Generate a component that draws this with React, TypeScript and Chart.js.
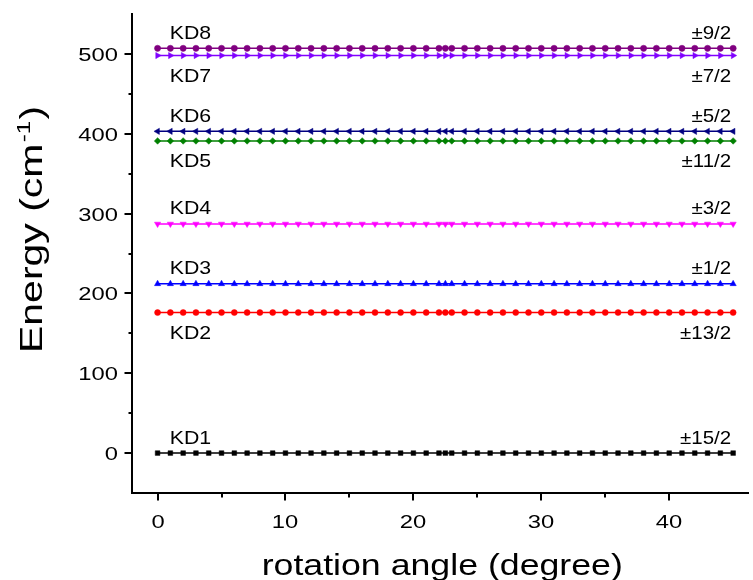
import { useEffect, useRef } from "react";
import { Chart, registerables } from "chart.js";

Chart.register(...registerables);

// rotation angle (degree)
const angles = [
  0, 1, 2, 3, 4, 5, 6, 7, 8, 9, 10, 11, 12, 13, 14, 15, 16, 17, 18, 19, 20, 21, 22,
  22.5,
  23, 24, 25, 26, 27, 28, 29, 30, 31, 32, 33, 34, 35, 36, 37, 38, 39, 40, 41, 42, 43, 44, 45,
];

// energies (cm-1) of the eight Kramers doublets at each angle
const kd1Energy = [
  0, 0, 0, 0, 0, 0, 0, 0, 0, 0,
  0, 0, 0, 0, 0, 0, 0, 0, 0, 0,
  0, 0, 0, 0, 0, 0, 0, 0, 0, 0,
  0, 0, 0, 0, 0, 0, 0, 0, 0, 0,
  0, 0, 0, 0, 0, 0, 0,
];
const kd2Energy = [
  176, 176, 176, 176, 176, 176, 176, 176, 176, 176,
  176, 176, 176, 176, 176, 176, 176, 176, 176, 176,
  176, 176, 176, 176, 176, 176, 176, 176, 176, 176,
  176, 176, 176, 176, 176, 176, 176, 176, 176, 176,
  176, 176, 176, 176, 176, 176, 176,
];
const kd3Energy = [
  212, 212, 212, 212, 212, 212, 212, 212, 212, 212,
  212, 212, 212, 212, 212, 212, 212, 212, 212, 212,
  212, 212, 212, 212, 212, 212, 212, 212, 212, 212,
  212, 212, 212, 212, 212, 212, 212, 212, 212, 212,
  212, 212, 212, 212, 212, 212, 212,
];
const kd4Energy = [
  287, 287, 287, 287, 287, 287, 287, 287, 287, 287,
  287, 287, 287, 287, 287, 287, 287, 287, 287, 287,
  287, 287, 287, 287, 287, 287, 287, 287, 287, 287,
  287, 287, 287, 287, 287, 287, 287, 287, 287, 287,
  287, 287, 287, 287, 287, 287, 287,
];
const kd5Energy = [
  391, 391, 391, 391, 391, 391, 391, 391, 391, 391,
  391, 391, 391, 391, 391, 391, 391, 391, 391, 391,
  391, 391, 391, 391, 391, 391, 391, 391, 391, 391,
  391, 391, 391, 391, 391, 391, 391, 391, 391, 391,
  391, 391, 391, 391, 391, 391, 391,
];
const kd6Energy = [
  403, 403, 403, 403, 403, 403, 403, 403, 403, 403,
  403, 403, 403, 403, 403, 403, 403, 403, 403, 403,
  403, 403, 403, 403, 403, 403, 403, 403, 403, 403,
  403, 403, 403, 403, 403, 403, 403, 403, 403, 403,
  403, 403, 403, 403, 403, 403, 403,
];
const kd7Energy = [
  498, 498, 498, 498, 498, 498, 498, 498, 498, 498,
  498, 498, 498, 498, 498, 498, 498, 498, 498, 498,
  498, 498, 498, 498, 498, 498, 498, 498, 498, 498,
  498, 498, 498, 498, 498, 498, 498, 498, 498, 498,
  498, 498, 498, 498, 498, 498, 498,
];
const kd8Energy = [
  507, 507, 507, 507, 507, 507, 507, 507, 507, 507,
  507, 507, 507, 507, 507, 507, 507, 507, 507, 507,
  507, 507, 507, 507, 507, 507, 507, 507, 507, 507,
  507, 507, 507, 507, 507, 507, 507, 507, 507, 507,
  507, 507, 507, 507, 507, 507, 507,
];

const seriesEnergies = [kd1Energy, kd2Energy, kd3Energy, kd4Energy, kd5Energy, kd6Energy, kd7Energy, kd8Energy];
const seriesNames = ["KD1", "KD2", "KD3", "KD4", "KD5", "KD6", "KD7", "KD8"];
const mjLabels = ["±15/2", "±13/2", "±1/2", "±3/2", "±11/2", "±5/2", "±7/2", "±9/2"];

// styles
const seriesColors = ["#000000", "#ff0000", "#0000ff", "#ff00ff", "#008000", "#000080", "#8000ff", "#800080"];
const seriesPointStyles = ["rect", "circle", "triangle", "triangle", "rectRot", "triangle", "triangle", "circle"];
const seriesPointRotation = [0, 0, 0, 180, 0, -90, 90, 0];
const seriesPointRadius = [3.3, 3, 3.6, 3.6, 3.3, 3.6, 3.6, 3.1];
const labelAbove = [true, false, true, true, false, true, false, true];

const FONT = '"Liberation Sans", Arial, Helvetica, sans-serif';

function drawStretched(ctx: CanvasRenderingContext2D, text: string, x: number, y: number, size: number, sx: number, align: string) {
  ctx.save();
  ctx.font = `${size}px ${FONT}`;
  ctx.textAlign = "left";
  ctx.textBaseline = "alphabetic";
  const w = ctx.measureText(text).width * sx;
  let left = x;
  if (align === "center") left = x - w / 2;
  else if (align === "right") left = x - w;
  ctx.translate(left, y);
  ctx.scale(sx, 1);
  ctx.fillStyle = "#000";
  ctx.fillText(text, 0, 0);
  ctx.restore();
}

const decorPlugin = {
  id: "decor",
  afterDatasetsDraw(chart: any) {
    const ctx: CanvasRenderingContext2D = chart.ctx;
    const xs = chart.scales.x;
    const ys = chart.scales.y;
    const area = chart.chartArea;
    ctx.save();
    ctx.strokeStyle = "#000";
    ctx.lineWidth = 2;
    // x ticks
    xs.ticks.forEach((t: any) => {
      const v = t.value;
      if (v < 0 || v > 45 || Math.abs(v % 5) > 1e-9) return;
      const major = Math.abs(v % 10) < 1e-9;
      const px = Math.round(xs.getPixelForValue(v));
      ctx.beginPath();
      ctx.moveTo(px, area.bottom);
      ctx.lineTo(px, area.bottom + (major ? 7.5 : 4.5));
      ctx.stroke();
      if (major) drawStretched(ctx, String(v), px, area.bottom + 35, 19, 1.25, "center");
    });
    // y ticks
    ys.ticks.forEach((t: any) => {
      const v = t.value;
      if (v < 0 || v > 500 || Math.abs(v % 50) > 1e-9) return;
      const major = Math.abs(v % 100) < 1e-9;
      const py = Math.round(ys.getPixelForValue(v));
      ctx.beginPath();
      ctx.moveTo(area.left, py);
      ctx.lineTo(area.left - (major ? 7.5 : 3.5), py);
      ctx.stroke();
      if (major) drawStretched(ctx, String(v), 118, py + 6.5, 19, 1.25, "right");
    });
    ctx.restore();

    // level labels
    seriesEnergies.forEach((arr, i) => {
      const py = ys.getPixelForValue(arr[0]);
      const base = labelAbove[i] ? py - 9.5 : py + 26;
      drawStretched(ctx, seriesNames[i], xs.getPixelForValue(0.95), base, 19, 1.12, "left");
      drawStretched(ctx, mjLabels[i], xs.getPixelForValue(44.85), base, 19, 1.08, "right");
    });

    // x title
    drawStretched(ctx, "rotation angle (degree)", (area.left + area.right) / 2 + 2, 575, 30, 1.19, "center");

    // y title with superscript
    ctx.save();
    ctx.translate(42, 353);
    ctx.rotate(-Math.PI / 2);
    ctx.scale(1.28, 1);
    ctx.fillStyle = "#000";
    ctx.textAlign = "left";
    ctx.textBaseline = "alphabetic";
    ctx.font = `32px ${FONT}`;
    const p1 = "Energy (cm";
    ctx.fillText(p1, 0, 0);
    const w1 = ctx.measureText(p1).width;
    ctx.font = `19px ${FONT}`;
    ctx.fillText("-1", w1 + 1, -12);
    const w2 = ctx.measureText("-1").width;
    ctx.font = `32px ${FONT}`;
    ctx.fillText(")", w1 + w2 + 2, 0);
    ctx.restore();
  },
};

export default function App() {
  const canvasRef = useRef<HTMLCanvasElement | null>(null);

  useEffect(() => {
    const canvas = canvasRef.current;
    if (!canvas) return;
    const datasets = seriesEnergies.map((arr, i) => ({
      label: seriesNames[i],
      data: angles.map((a, j) => ({ x: a, y: arr[j] })),
      borderColor: seriesColors[i],
      backgroundColor: seriesColors[i],
      borderWidth: 1.5,
      pointStyle: seriesPointStyles[i] as any,
      pointRotation: seriesPointRotation[i],
      pointRadius: seriesPointRadius[i],
      pointBorderWidth: 0.5,
      pointBackgroundColor: seriesColors[i],
      pointBorderColor: seriesColors[i],
      showLine: true,
      fill: false,
      tension: 0,
      clip: false as any,
    }));
    const chart = new Chart(canvas, {
      type: "line",
      data: { datasets },
      options: {
        animation: false,
        responsive: false,
        maintainAspectRatio: false,
        devicePixelRatio: 1,
        layout: { padding: { top: 14, right: 1, left: 0, bottom: 0 } },
        plugins: { legend: { display: false }, tooltip: { enabled: false }, title: { display: false } },
        scales: {
          x: {
            type: "linear",
            min: -2,
            max: 46.2,
            ticks: { display: false, stepSize: 5 },
            grid: { display: false, drawTicks: false },
            border: { display: true, color: "#000", width: 2 },
            afterFit: (s: any) => {
              s.height = 87;
            },
          },
          y: {
            type: "linear",
            min: -50,
            max: 550,
            ticks: { display: false, stepSize: 50 },
            grid: { display: false, drawTicks: false },
            border: { display: true, color: "#000", width: 2 },
            afterFit: (s: any) => {
              s.width = 132;
            },
          },
        },
      },
      plugins: [decorPlugin],
    });
    return () => chart.destroy();
  }, []);

  return (
    <div style={{ position: "absolute", left: 0, top: 0, width: 753, height: 580, background: "#fff" }}>
      <canvas ref={canvasRef} width={753} height={580} style={{ display: "block", width: 753, height: 580 }} />
    </div>
  );
}
